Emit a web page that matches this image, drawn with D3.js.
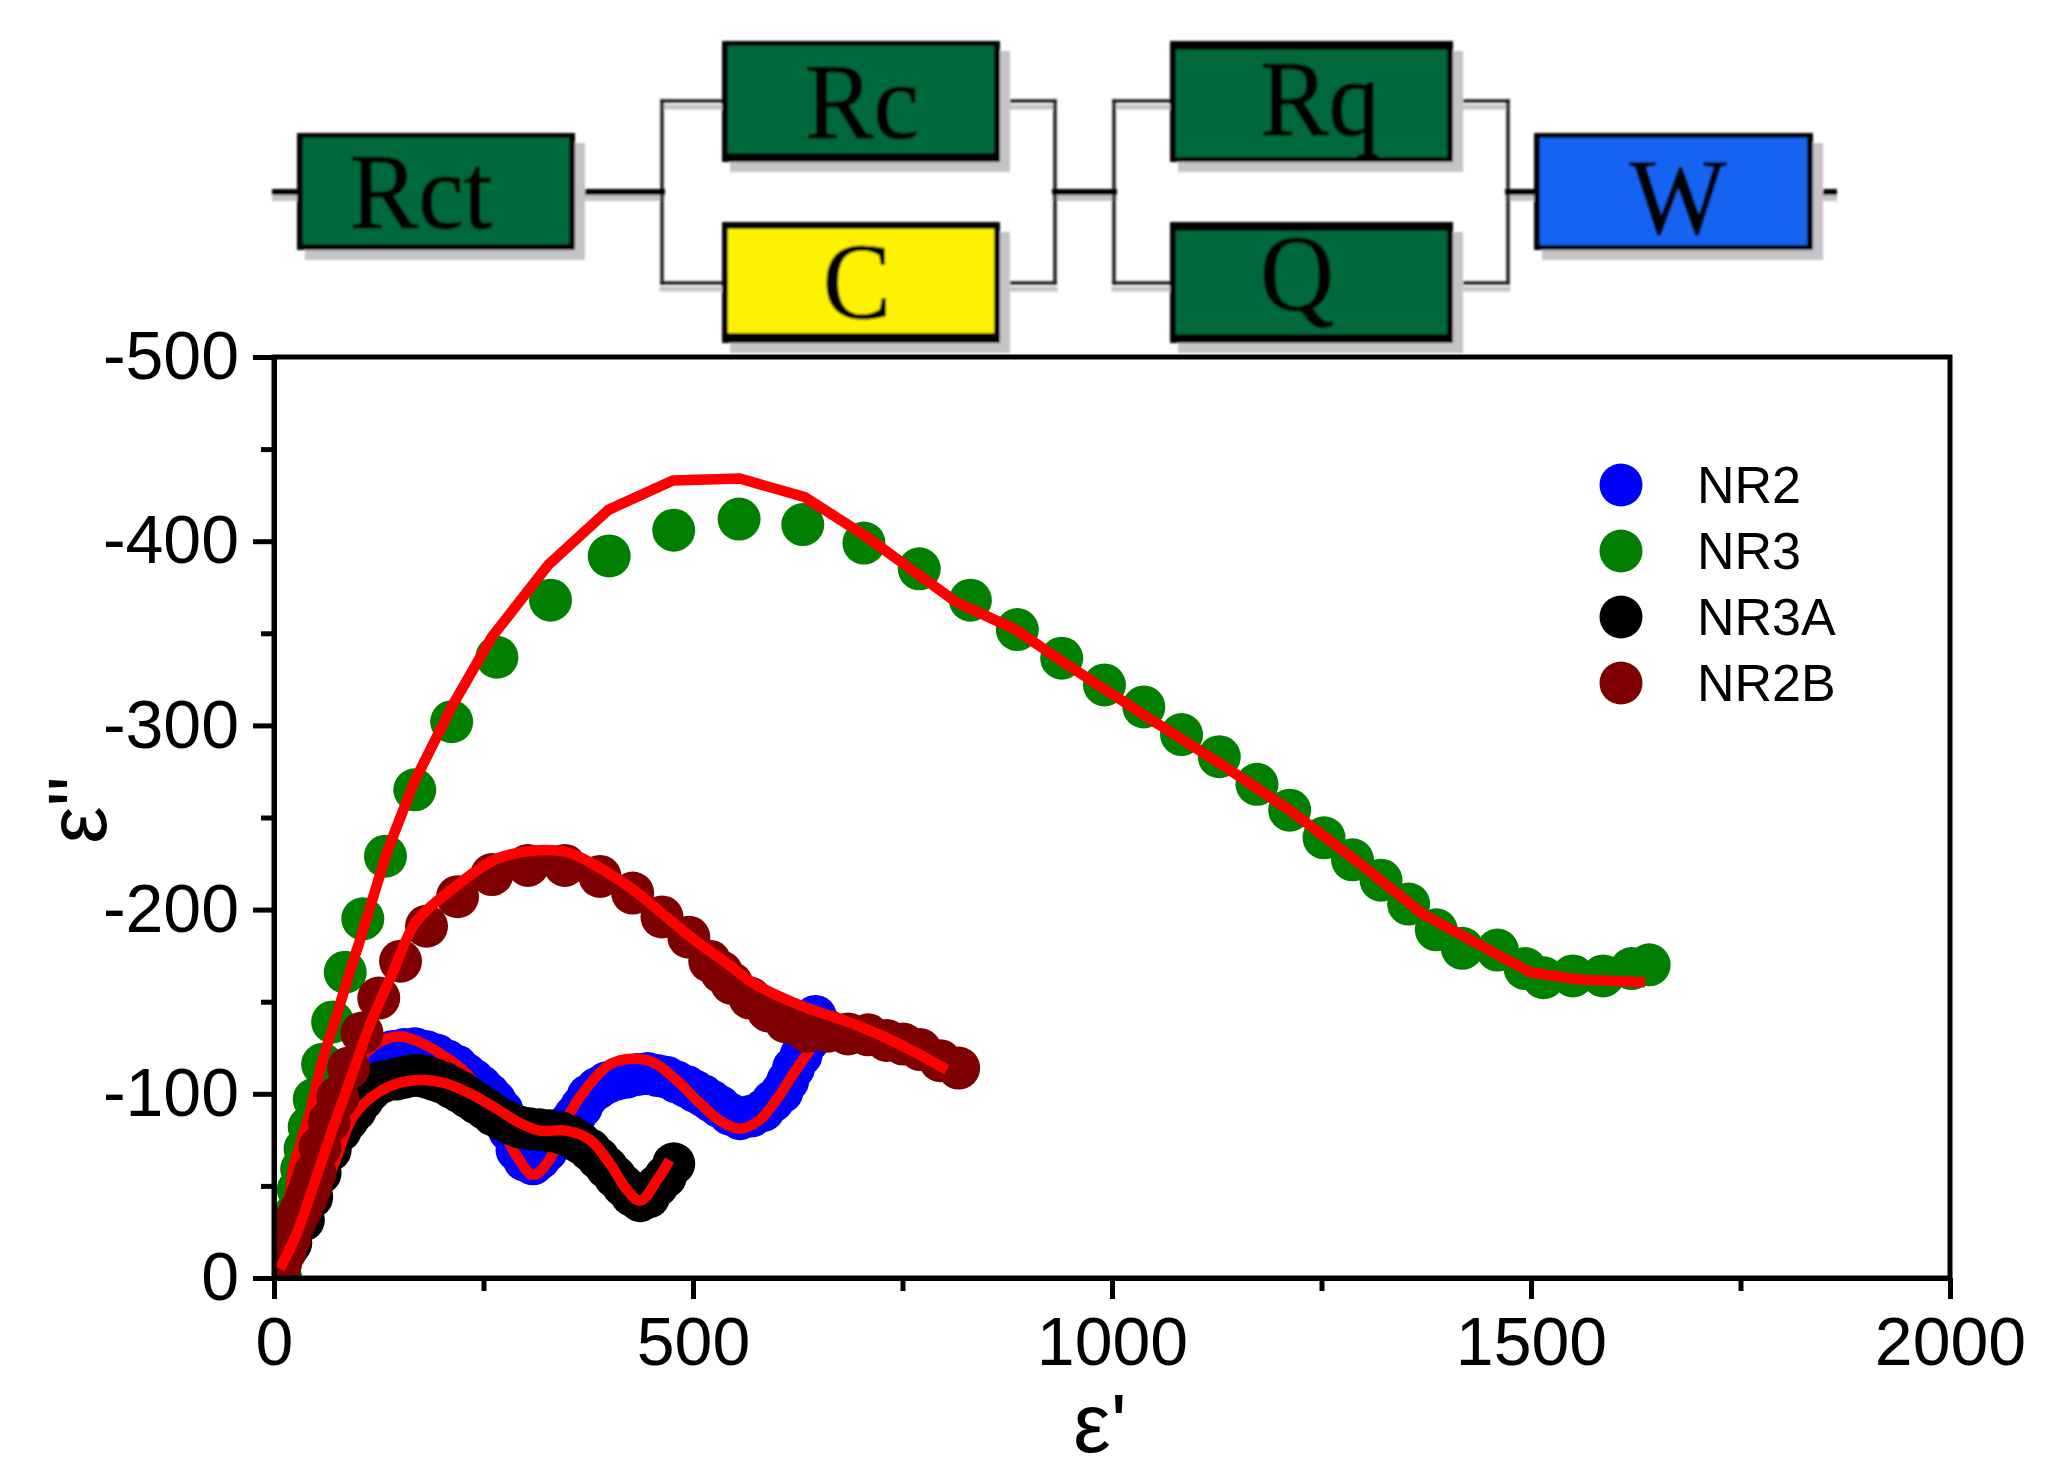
<!DOCTYPE html>
<html><head><meta charset="utf-8">
<script src="https://cdn.jsdelivr.net/npm/d3@7"></script>
<style>
html,body{margin:0;padding:0;background:#fff}
svg{display:block}
text{font-family:"Liberation Sans",Arial,sans-serif;fill:#000}
.el text{font-family:"Liberation Serif","Times New Roman",serif}
</style></head><body>
<svg id="c" width="2048" height="1484"></svg>
<script>
const nr2 = [[5,12],[22,32],[42,55],[62,80],[82,100],[102,115],[122,122],[142,123],[155,124],[168,124.5],[181,123],[194,121],[206,118],[218,115],[228,111],[238,107.5],[247,104],[256,100],[264,96],[272,91],[281,80],[290,69.5],[299,64],[309,62],[317,65],[325,69],[333,74],[341,79],[350,83],[359,88],[367,93],[375,99],[386,103],[397,106],[409,108],[421,109],[434,110.5],[446,111],[457,110],[468,109],[480,106.5],[492,104],[502,101.5],[512,99],[522,96],[532,93],[544,89],[556,86.5],[570,88],[584,91],[595,96],[606,101],[613,107],[620,114],[629,121],[638,129],[646,142]];
const nr3 = [[8,0],[17,17],[24,34],[29,48],[33,59],[37,70],[42,82],[48,97],[58,116],[70,139],[85,166],[106,195],[133,229],[168,265],[212,302],[266,337],[330,368],[400,392],[477,406],[555,412],[631,409],[704,399],[770,385],[831,368],[887,352],[940,336.5],[991,322],[1038,310],[1083,295],[1128,283],[1173,268],[1212,254],[1253,239],[1287,227],[1321,216],[1354,203],[1387,189],[1418,179],[1460,178],[1493,168],[1515,163],[1550,164],[1586,164],[1620,168],[1641,170]];
const nr3a = [[5,2.5],[20,19],[35,31.5],[45,44],[55,57],[67,69.5],[79,80],[88,86],[97,91],[106,97],[115,102],[130,106.6],[146,108],[156,109],[166,110],[174,110],[182,109],[192,107.5],[202,106],[212,103.5],[222,101],[232,98],[242,95],[252,92],[262,88.5],[272,86],[282,84],[293,82],[305,81],[317,80.5],[329,80],[341,79],[353,77],[365,73.5],[377,69.5],[387,65],[397,60],[407,55],[417,50],[427,45],[437,42],[447,44],[457,50],[467,55],[477,62]];
const nr2b = [[0,2],[6,0],[8,8],[13,14],[19,22],[25,31],[32,37],[39,44],[44,50],[49,57],[55,71],[66,85],[76,98],[89,114],[105,133],[125,152],[151,172],[182,191],[219,207],[260,219],[303,224],[347,224],[389,218],[428,209],[463,196],[495,185],[520,172],[534,166],[546,160],[568,152],[590,145],[611,139],[636,134],[661,134],[685,132.5],[709,132],[731,129],[751,127],[771,124],[795,118],[817,114]];
const fitNr2 = [[5,5],[25,30],[45,60],[65,85],[85,105],[105,120],[130,129],[154,131],[174,128],[198,122],[230,111],[246,100],[266,86],[290,66],[309,56],[327,63],[353,89.5],[381,107.5],[401,116],[427,119],[453,117],[480,107.5],[508,95],[532,85.5],[556,81],[580,86],[600,97],[620,111],[640,124]];
const fitNr3 = [[5,5],[12,20],[23,60],[43,90],[57,117],[73,140],[91,167],[103,184],[135,231.5],[167,269],[212,310],[260,348],[327,387],[399,417],[476,433],[556,434],[633,424],[702,404],[814,367],[885,352],[943,334],[1044,304],[1130,279],[1215,253],[1293,226],[1371,197.5],[1434,182],[1499,166],[1558,162],[1636,160.6]];
const fitNr3a = [[10,3],[25,15],[45,35],[70,60],[95,88],[122,100],[150,106],[178,107.5],[202,106],[230,101],[262,93],[294,84],[317,80],[349,80],[377,75],[401,62],[421,48],[437,42],[457,53],[472,64]];
const fitNr2b = [[7,5],[27,24],[47,50],[67,77],[91,107.5],[115,138],[142,166],[169,193],[218,213],[263,227],[308,232],[351,231],[393,221.5],[431,210],[463,198],[502,183.5],[540,171],[576,159],[628,148],[679,140],[723,132],[763,123],[803,113]];

const seriesNames = ["NR2","NR3","NR3A","NR2B"];
const seriesColors = ["#0000ff","#007f00","#000000","#7f0000"];
const seriesPoints = [nr2,nr3,nr3a,nr2b];
const seriesFits = [fitNr2,fitNr3,fitNr3a,fitNr2b];
const xTicks = [0,500,1000,1500,2000];
const xMinor = [250,750,1250,1750];
const yTicks = [0,-100,-200,-300,-400,-500];
const yMinor = [-50,-150,-250,-350,-450];
const circuitNames = ["Rct","Rc","C","Rq","Q","W"];
const circuitColors = ["#05693b","#05693b","#fff200","#05693b","#05693b","#1464f2"];

const L=274,R=1950,T=357,B=1278;
const x=d3.scaleLinear().domain([0,2000]).range([L,R]);
const y=d3.scaleLinear().domain([0,-500]).range([B,T]);
const svg=d3.select("#c");

// ---- circuit ----
const boxes=[
 {x:297,y:133,w:278,h:117,tx:421,ty:228,top:5,bot:6},
 {x:722,y:41,w:278,h:121,tx:862,ty:138,top:5,bot:9},
 {x:722,y:222,w:278,h:121,tx:857,ty:318,top:7,bot:10},
 {x:1170,y:41,w:283,h:121,tx:1320,ty:135,top:9,bot:5},
 {x:1170,y:222,w:283,h:121,tx:1297,ty:310,top:9,bot:9},
 {x:1534,y:133,w:279,h:117,tx:1678,ty:233,top:5,bot:5}];
const wiresThick=[[275,192,662,192],[1055,192,1114,192],[1508,192,1834,192]];
const wiresH=[[662,101,722,101],[662,283,722,283],[1000,101,1055,101],[1000,283,1055,283],
 [1114,101,1170,101],[1114,283,1170,283],[1453,101,1508,101],[1453,283,1508,283]];
const wiresV=[[662,101,662,283],[1055,101,1055,283],[1114,101,1114,283],[1508,101,1508,283]];
const defs=svg.append("defs");
defs.append("filter").attr("id","soft").append("feGaussianBlur").attr("stdDeviation",0.9);
defs.append("clipPath").attr("id","plot").append("rect").attr("x",L).attr("y",T).attr("width",R-L).attr("height",B-T);
const cg=svg.append("g").attr("filter","url(#soft)");
const shade="#c4c3c6";
const seg=(data,dy,col,w)=>cg.append("g").selectAll("line").data(data).join("line")
    .attr("x1",d=>d[0]).attr("y1",d=>d[1]+dy).attr("x2",d=>d[2]).attr("y2",d=>d[3]+dy)
    .attr("stroke",col).attr("stroke-width",w).attr("stroke-linecap","square");
seg(wiresH,6,shade,5);
seg(wiresThick,6,shade,6);
seg(wiresV,0,"#222",3.5);
seg(wiresH,0,"#222",3.5);
seg(wiresThick,0,"#000",6);
cg.selectAll("rect.sh").data(boxes).join("rect").attr("class","sh")
  .attr("x",d=>d.x+8).attr("y",d=>d.y+10).attr("width",d=>d.w+2).attr("height",d=>d.h).attr("fill",shade);
const el=cg.selectAll("g.el").data(boxes).join("g").attr("class","el");
el.append("rect").attr("x",d=>d.x).attr("y",d=>d.y).attr("width",d=>d.w).attr("height",d=>d.h).attr("fill","#000");
el.append("rect").attr("x",d=>d.x+6).attr("y",d=>d.y+d.top).attr("width",d=>d.w-12).attr("height",d=>d.h-d.top-d.bot)
  .attr("fill",(d,i)=>circuitColors[i]);
el.append("text").attr("text-anchor","middle").attr("font-size",108)
  .attr("stroke","#000").attr("stroke-width",1.2)
  .attr("transform",d=>`translate(${d.tx},${d.ty}) scale(0.95,1)`)
  .text((d,i)=>circuitNames[i]);

// ---- data ----
const plot=svg.append("g").attr("clip-path","url(#plot)");
const smooth=d3.line().x(d=>x(d[0])).y(d=>y(-d[1])).curve(d3.curveCatmullRom.alpha(0.5));
const straight=d3.line().x(d=>x(d[0])).y(d=>y(-d[1])).curve(d3.curveLinear);
seriesNames.forEach((n,i)=>{
  plot.append("g").selectAll("circle").data(seriesPoints[i]).join("circle")
    .attr("cx",d=>x(d[0])).attr("cy",d=>y(-d[1])).attr("r",21.5).attr("fill",seriesColors[i]);
  plot.append("path").datum(seriesFits[i]).attr("d",n==="NR3"?straight:smooth).attr("fill","none")
    .attr("stroke","#ff0000").attr("stroke-width",10.5).attr("stroke-linejoin","round");
});

// ---- axes ----
const sty=(g)=>{g.selectAll("path,line").attr("stroke","#000").attr("stroke-width",5);
  g.selectAll("text").attr("font-size",68).attr("font-family",'"Liberation Sans",Arial,sans-serif').attr("fill","#000");};
svg.append("g").attr("transform",`translate(0,${B})`)
  .call(d3.axisBottom(x).tickValues(xMinor).tickSize(13).tickFormat("").tickSizeOuter(0)).call(sty);
svg.append("g").attr("transform",`translate(0,${B})`)
  .call(d3.axisBottom(x).tickValues(xTicks).tickSize(21).tickPadding(18).tickFormat(String).tickSizeOuter(0)).call(sty);
svg.append("g").attr("transform",`translate(${L},0)`)
  .call(d3.axisLeft(y).tickValues(yMinor).tickSize(13).tickFormat("").tickSizeOuter(0)).call(sty);
svg.append("g").attr("transform",`translate(${L},0)`)
  .call(d3.axisLeft(y).tickValues(yTicks).tickSize(21).tickPadding(14).tickFormat(String).tickSizeOuter(0)).call(sty);
svg.append("rect").attr("x",L).attr("y",T).attr("width",R-L).attr("height",B-T)
  .attr("fill","none").attr("stroke","#000").attr("stroke-width",5);

svg.append("text").attr("x",1100).attr("y",1452).attr("text-anchor","middle").attr("font-size",84).text("ε'");
svg.append("text").attr("transform","translate(106,810) rotate(-90)").attr("text-anchor","middle").attr("font-size",84).text('ε"');

// ---- legend ----
const lg=svg.append("g").selectAll("g").data(seriesNames).join("g")
  .attr("transform",(d,i)=>`translate(1621,${485+i*66})`);
lg.append("circle").attr("r",21.5).attr("fill",(d,i)=>seriesColors[i]);
lg.append("text").attr("x",76).attr("y",18).attr("font-size",52).text(d=>d);
</script>
</body></html>
